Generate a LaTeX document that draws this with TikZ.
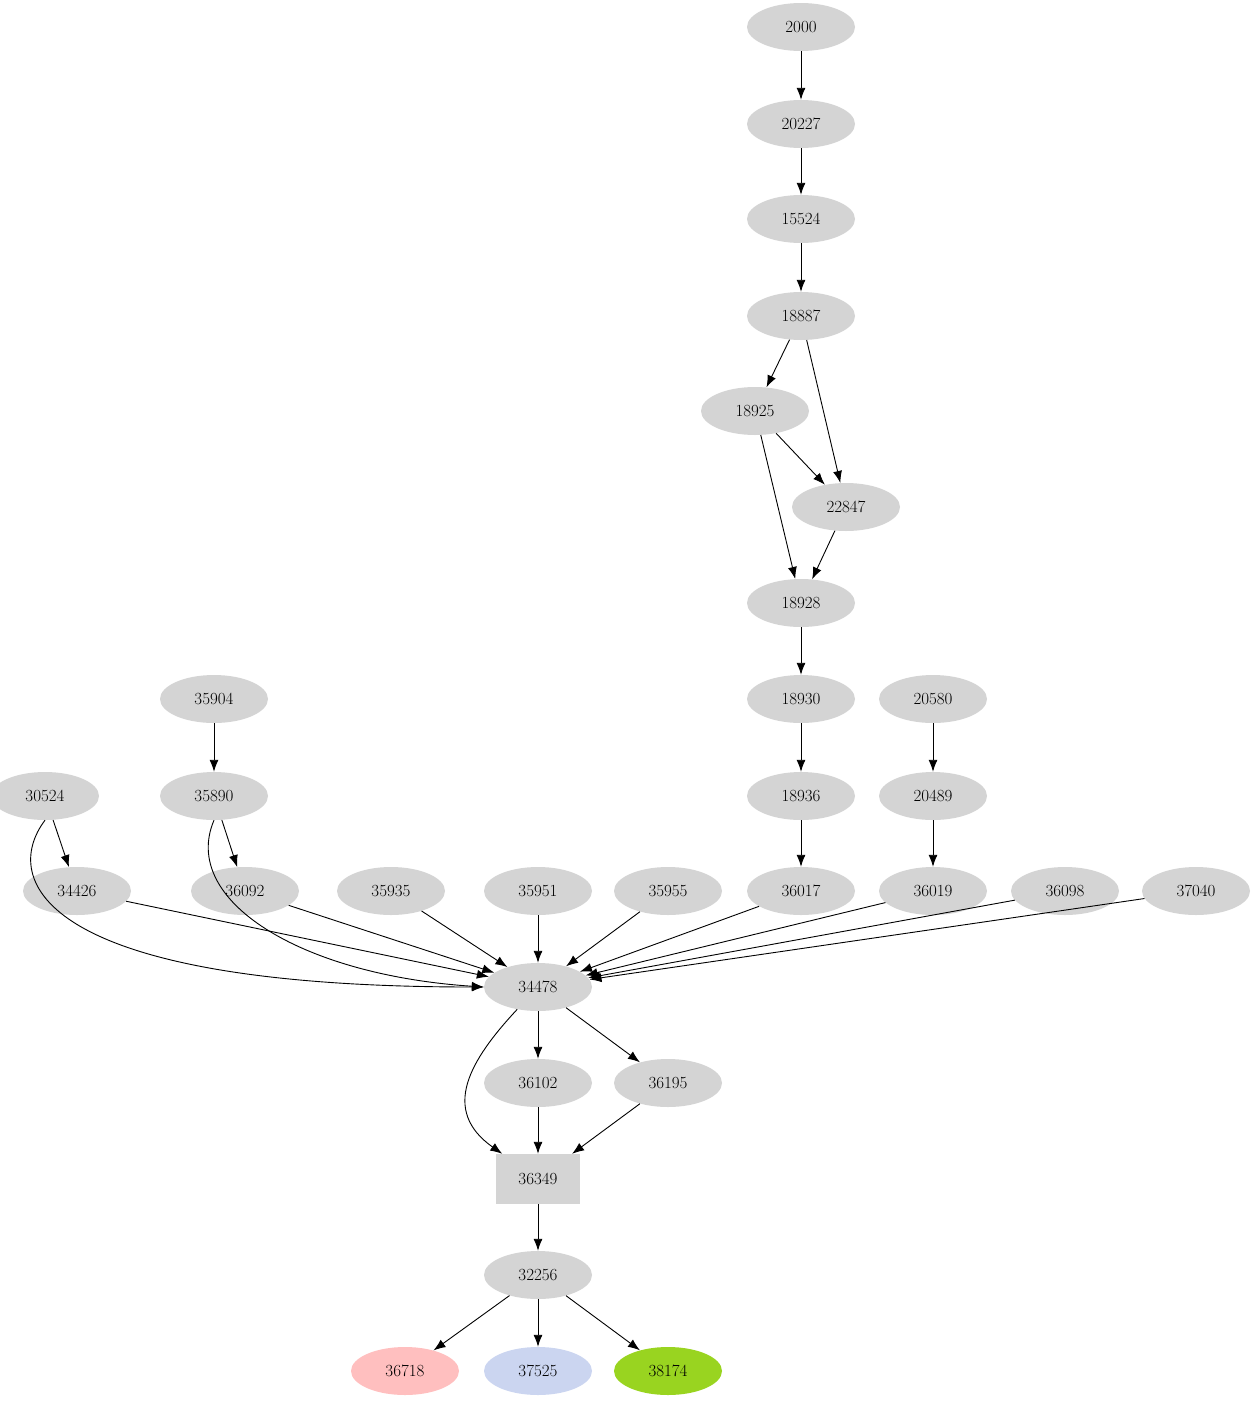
\documentclass[tikz,border=0pt]{standalone}
\usetikzlibrary{arrows.meta,shapes.geometric}
\begin{document}
\begin{tikzpicture}[x=1pt,y=-1pt,
 nd/.style={ellipse,fill=#1,minimum width=108pt,minimum height=48pt,inner sep=0pt,font=\fontsize{17}{20}\selectfont},
 nd/.default={black!17},
 bx/.style={rectangle,fill=black!17,minimum width=84pt,minimum height=50pt,inner sep=0pt,font=\fontsize{17}{20}\selectfont},
 e/.style={-{Latex[length=12pt,width=9pt]},line width=0.9pt}]
\useasboundingbox (0,0) rectangle (1257,1403);
\node[nd] (n2000) at (801,27) {2000};
\node[nd] (n20227) at (801,124) {20227};
\node[nd] (n15524) at (801,219) {15524};
\node[nd] (n18887) at (801,316) {18887};
\node[nd] (n18925) at (755,411) {18925};
\node[nd] (n22847) at (846,507) {22847};
\node[nd] (n18928) at (801,603) {18928};
\node[nd] (n18930) at (801,699) {18930};
\node[nd] (n20580) at (933,699) {20580};
\node[nd] (n35904) at (214,699) {35904};
\node[nd] (n30524) at (45,796) {30524};
\node[nd] (n35890) at (214,796) {35890};
\node[nd] (n18936) at (801,796) {18936};
\node[nd] (n20489) at (933,796) {20489};
\node[nd] (n34426) at (77,891) {34426};
\node[nd] (n36092) at (245,891) {36092};
\node[nd] (n35935) at (391,891) {35935};
\node[nd] (n35951) at (538,891) {35951};
\node[nd] (n35955) at (668,891) {35955};
\node[nd] (n36017) at (801,891) {36017};
\node[nd] (n36019) at (933,891) {36019};
\node[nd] (n36098) at (1065,891) {36098};
\node[nd] (n37040) at (1196,891) {37040};
\node[nd] (n34478) at (538,987) {34478};
\node[nd] (n36102) at (538,1083) {36102};
\node[nd] (n36195) at (668,1083) {36195};
\node[bx] (n36349) at (538,1179) {36349};
\node[nd] (n32256) at (538,1275) {32256};
\node[nd=pink] (n36718) at (405,1371) {36718};
\node[nd={cyan!45!blue!20!white}] (n37525) at (538,1371) {37525};
\node[nd={yellow!60!green}] (n38174) at (668,1371) {38174};
\draw[e] (n2000)--(n20227);
\draw[e] (n20227)--(n15524);
\draw[e] (n15524)--(n18887);
\draw[e] (n18887)--(n18925);
\draw[e] (n18887)--(n22847);
\draw[e] (n18925)--(n22847);
\draw[e] (n18925)--(n18928);
\draw[e] (n22847)--(n18928);
\draw[e] (n18928)--(n18930);
\draw[e] (n18930)--(n18936);
\draw[e] (n20580)--(n20489);
\draw[e] (n35904)--(n35890);
\draw[e] (n30524)--(n34426);
\draw[e] (n35890)--(n36092);
\draw[e] (n18936)--(n36017);
\draw[e] (n20489)--(n36019);
\draw[e] (n30524.south) .. controls (0,880) and (40,987) .. (n34478.west);
\draw[e] (n35890.south) .. controls (180,900) and (300,975) .. (n34478.west);
\foreach \s in {n34426,n36092,n35935,n35951,n35955,n36017,n36019,n36098,n37040} \draw[e] (\s)--(n34478);
\draw[e] (n34478)--(n36102);
\draw[e] (n34478)--(n36195);
\draw[e] (n34478) .. controls (470,1060) and (440,1110) .. (n36349);
\draw[e] (n36102)--(n36349);
\draw[e] (n36195)--(n36349);
\draw[e] (n36349)--(n32256);
\draw[e] (n32256)--(n36718);
\draw[e] (n32256)--(n37525);
\draw[e] (n32256)--(n38174);
\end{tikzpicture}
\end{document}
